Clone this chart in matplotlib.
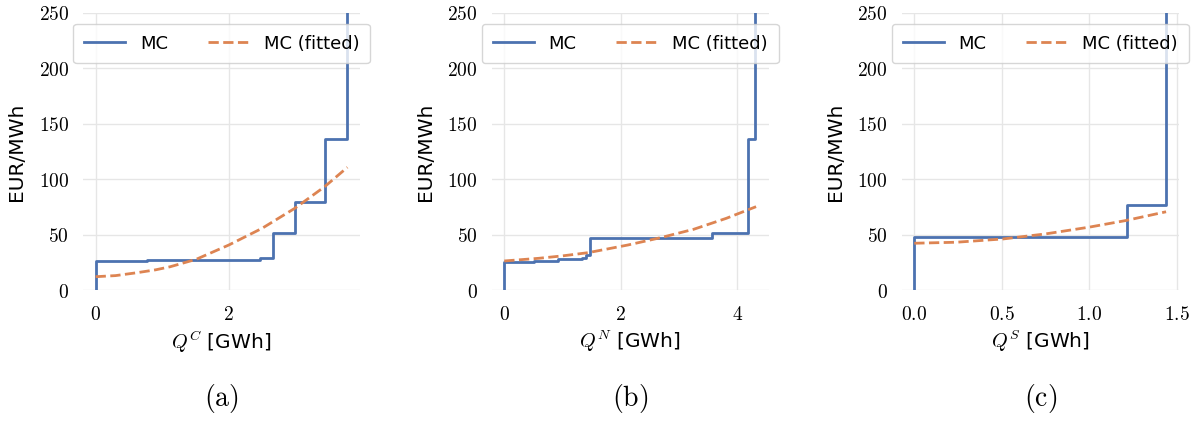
import numpy as np
import matplotlib
matplotlib.use('Agg')
import matplotlib.pyplot as plt
from matplotlib.ticker import FuncFormatter, MultipleLocator

plt.rcParams['font.family'] = ['DejaVu Sans']
plt.rcParams['mathtext.fontset'] = 'cm'

# merit-order steps (cumulative quantity in GWh, price in EUR/MWh)
q_c = [0, 0, 0.77, 2.47, 2.67, 2.99, 3.44, 3.78]
mc_c = [0, 26.2, 27.0, 28.6, 51.2, 79.7, 136, 300]
q_n = [0, 0, 0.51, 0.93, 1.33, 1.41, 1.47, 3.56, 4.18, 4.31]
mc_n = [0, 25.0, 26.2, 27.7, 29.2, 31.3, 46.6, 51.2, 136, 300]
q_s = [0, 0, 1.215, 1.44]
mc_s = [0, 47.5, 77, 300]

# fitted curves
fit_q_c = [0, 0.3, 0.62, 0.9, 1.12, 1.51, 2.0, 2.5, 2.99, 3.44, 3.78]
fit_mc_c = [12.0, 13.0, 15.6, 18.2, 21.0, 27.7, 40.6, 55.7, 73.7, 93.3, 110.7]
fit_q_n = [0, 0.59, 1.0, 1.44, 2.12, 2.68, 3.25, 3.81, 4.32]
fit_mc_n = [26.2, 28.6, 30.8, 33.7, 40.6, 47.2, 54.8, 64.7, 75.2]
fit_q_s = [0, 0.24, 0.51, 0.75, 1.0, 1.21, 1.44]
fit_mc_s = [42.2, 43.1, 46.1, 50.6, 56.7, 62.7, 70.6]

panels = [
    (q_c, mc_c, fit_q_c, fit_mc_c, r'$Q^C$ [GWh]', '(a)', 2, '{:g}'),
    (q_n, mc_n, fit_q_n, fit_mc_n, r'$Q^N$ [GWh]', '(b)', 2, '{:g}'),
    (q_s, mc_s, fit_q_s, fit_mc_s, r'$Q^S$ [GWh]', '(c)', 0.5, '{:.1f}'),
]
lefts = [0.0694, 0.4111, 0.7539]

blue = '#4C72B0'
orange = '#DD8452'

fig = plt.figure(figsize=(11.96, 4.23), dpi=100)
for (q, mc, fq, fmc, xlab, cap, step, fmt), left in zip(panels, lefts):
    ax = fig.add_axes([left, 0.3144, 0.2316, 0.655])
    ax.plot(q, mc, drawstyle='steps-post', color=blue, lw=2, label='MC')
    ax.plot(fq, fmc, '--', color=orange, lw=2, label='MC (fitted)')
    ax.set_ylim(0, 250)
    ax.yaxis.set_major_locator(MultipleLocator(50))
    ax.xaxis.set_major_locator(MultipleLocator(step))
    ax.yaxis.set_major_formatter(FuncFormatter(lambda v, p: '$%g$' % v))
    ax.xaxis.set_major_formatter(FuncFormatter(lambda v, p, f=fmt: '$' + f.format(v) + '$'))
    ax.grid(True, color='#e6e6e6', lw=1)
    ax.set_axisbelow(True)
    for s in ax.spines.values():
        s.set_visible(False)
    ax.tick_params(axis='y', length=0, pad=10, labelsize=14)
    ax.tick_params(axis='x', length=0, pad=11, labelsize=14)
    ax.set_xlabel(xlab, fontsize=14.5, labelpad=3)
    ax.set_ylabel('EUR/MWh', fontsize=14.5, labelpad=9)
    ax.legend(loc='upper center', ncol=2, fontsize=13, edgecolor='#cccccc',
              handlelength=2.3, columnspacing=2.2, borderpad=0.6, borderaxespad=0.6)
    fig.text(left + 0.2316 / 2, 0.057, '$\\mathrm{' + cap + '}$', fontsize=20,
             ha='center', va='center')

fig.savefig('out.png', dpi=100)
